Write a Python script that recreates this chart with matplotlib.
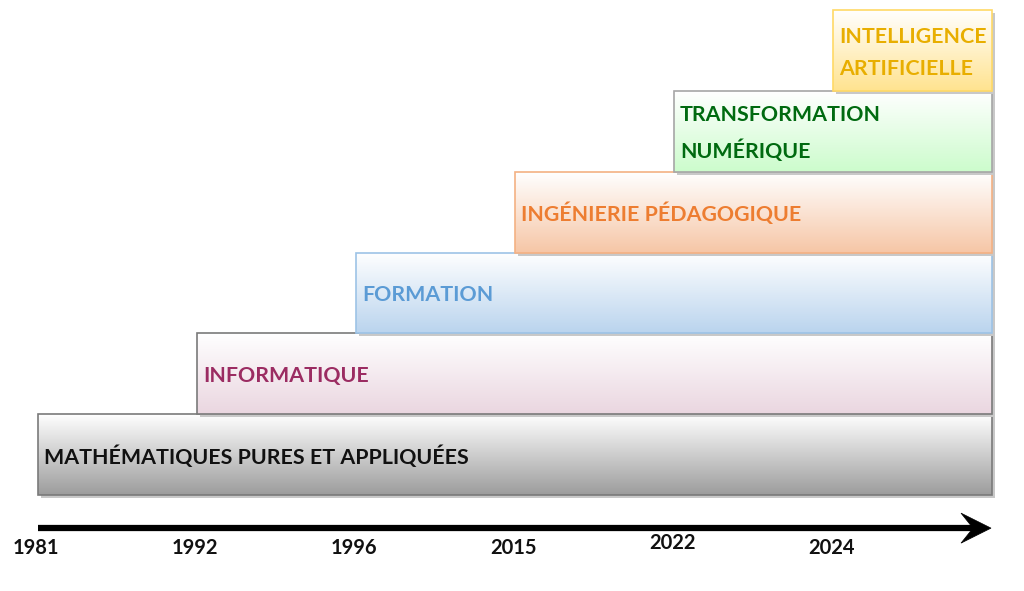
import numpy as np
import matplotlib.pyplot as plt
from matplotlib.colors import LinearSegmentedColormap
from matplotlib.patches import Rectangle, Polygon

# timeline data
years = ['1981', '1992', '1996', '2015', '2022', '2024']
labels = ['MATHÉMATIQUES PURES ET APPLIQUÉES',
          'INFORMATIQUE',
          'FORMATION',
          'INGÉNIERIE PÉDAGOGIQUE',
          'TRANSFORMATION\nNUMÉRIQUE',
          'INTELLIGENCE\nARTIFICIELLE']
starts = [0, 1, 2, 3, 4, 5]
end = 6

# styles
text_colors = ['#111111', '#9b2c62', '#5b9bd5', '#ed7d31', '#006a10', '#e8ae00']
fill_bottom = ['#9c9c9c', '#ead6e0', '#bad4ee', '#f6c6a6', '#ccfccc', '#ffe38f']
edge_colors = ['#7a7a7a', '#7a7a7a', '#9dc3e6', '#f4b183', '#a6a6a6', '#ffd966']
year_dy = [0, 0, 0, 0, 0.06, 0]

fig = plt.figure(figsize=(10.24, 5.91), dpi=100)
ax = fig.add_axes([0, 0, 1, 1])

px_x = 159.0
px_y = 80.8
for i, (s, lab) in enumerate(zip(starts, labels)):
    z = 2 + i * 3
    # shadow
    ax.add_patch(Rectangle((s + 3 / px_x, i - 3 / px_y), end - s, 1,
                           facecolor='#c8c8c8', edgecolor='none', zorder=z))
    cmap = LinearSegmentedColormap.from_list('g%d' % i, [fill_bottom[i], '#ffffff'])
    grad = np.linspace(0, 1, 256)[:, None]
    im = ax.imshow(grad, cmap=cmap, origin='lower', aspect='auto',
                   extent=(s, end, i, i + 1), zorder=z + 1)
    rect = Rectangle((s, i), end - s, 1, facecolor='none',
                     edgecolor=edge_colors[i], linewidth=1.2, zorder=z + 2)
    ax.add_patch(rect)
    im.set_clip_path(rect)
    ax.text(s + 6 / px_x, i + 0.5 - 2 / px_y, lab, color=text_colors[i],
            fontsize=15.4, fontweight='bold', family='Lato',
            ha='left', va='center', linespacing=1.75, zorder=z + 2)

# time axis arrow
y_arrow = -0.41
tip = end - 1 / px_x
ax.plot([0, tip - 14 / px_x], [y_arrow, y_arrow], color='black', lw=4.5,
        solid_capstyle='butt')
ax.add_patch(Polygon([(tip, y_arrow),
                      (tip - 30 / px_x, y_arrow + 15 / px_y),
                      (tip - 18 / px_x, y_arrow),
                      (tip - 30 / px_x, y_arrow - 15 / px_y)],
                     closed=True, facecolor='black', edgecolor='black', lw=0.5))
for k, yr in enumerate(years):
    ax.text(starts[k] - 0.01, -0.66 + year_dy[k], yr, fontsize=14.5,
            fontweight='bold', family='Lato', ha='center', va='center',
            color='#111111')

ax.set_xlim(-38 / px_x, (1024 - 38) / px_x)
ax.set_ylim(-96 / px_y, 495 / px_y)
ax.axis('off')
fig.savefig('out.png', dpi=100)
